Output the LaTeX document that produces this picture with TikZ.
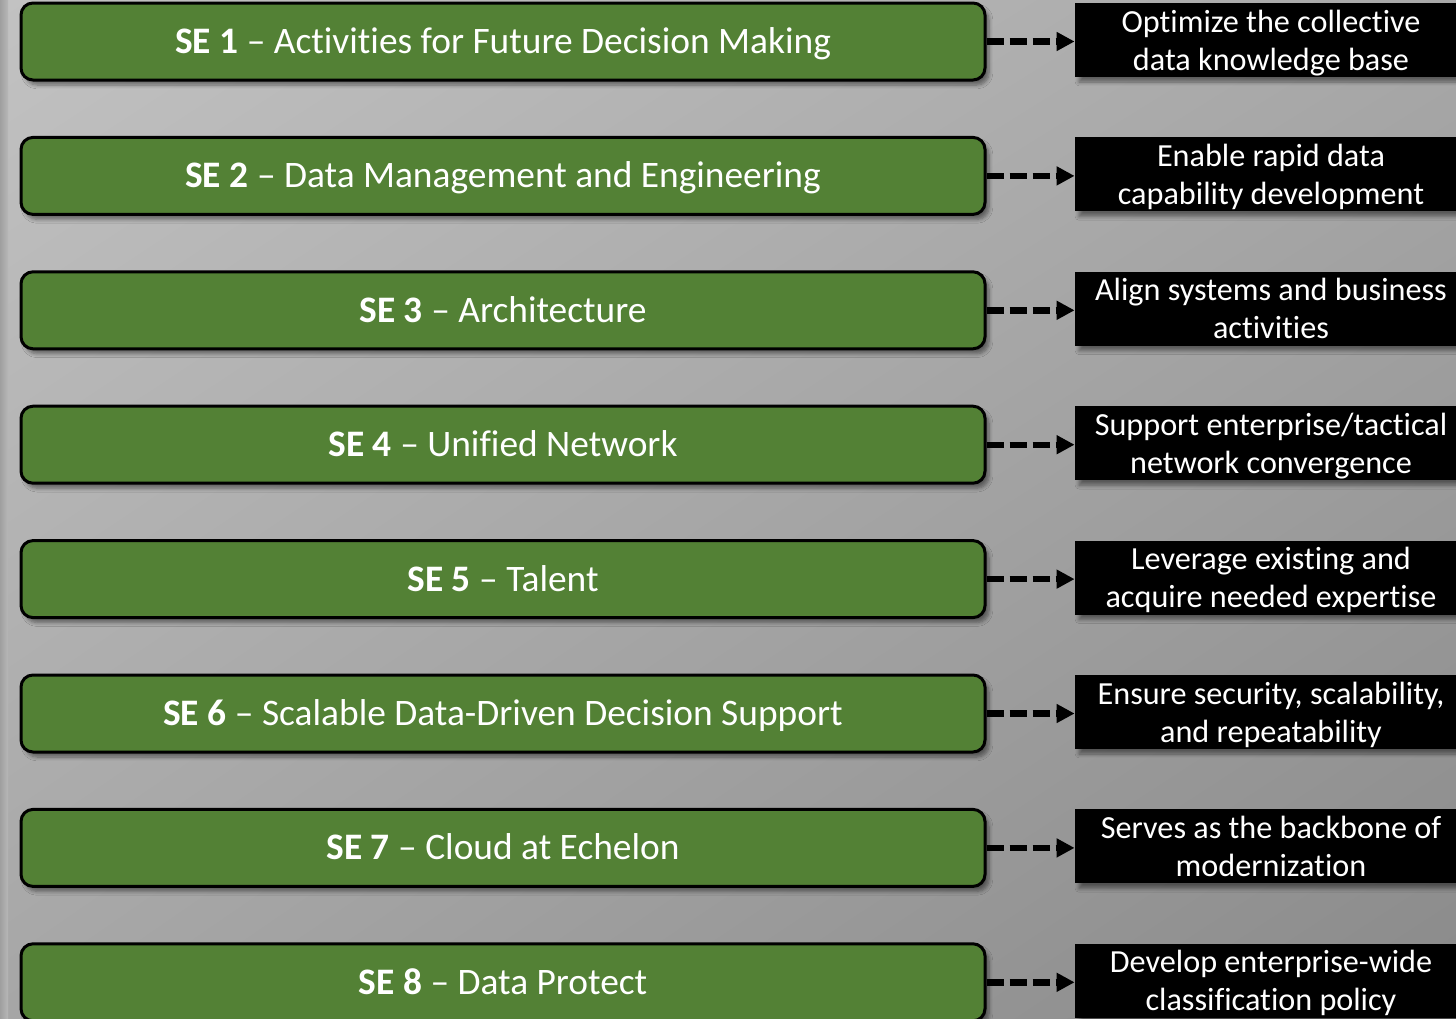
\documentclass[tikz,border=0pt]{standalone}
\usepackage{fontspec}
\setmainfont{Carlito}[Ligatures=NoCommon]
\usetikzlibrary{arrows.meta,shadings,shadows.blur}
\definecolor{segreen}{HTML}{538135}
\definecolor{bgtl}{HTML}{C2C2C2}
\definecolor{bgtr}{HTML}{A8A8A8}
\definecolor{bgbl}{HTML}{A6A6A6}
\definecolor{bgbr}{HTML}{8A8A8A}
\tikzset{
  sebox/.style={draw=black, line width=1.5pt, fill=segreen, rounded corners=6pt,
    minimum width=482pt, minimum height=38.5pt, text=white,
    font=\fontsize{18.7}{22}\selectfont, text height=12pt, text depth=0pt,
    blur shadow={shadow xshift=2pt, shadow yshift=-2.5pt, shadow blur steps=6, shadow opacity=45}},
  goalbox/.style={fill=black, minimum width=196pt, minimum height=37pt, inner sep=0pt,
    text=white, align=center, font=\fontsize{16.1}{19}\selectfont, text depth=0pt,
    blur shadow={shadow xshift=2pt, shadow yshift=-2.5pt, shadow blur steps=6, shadow opacity=45}},
  dasharrow/.style={line width=3.2pt, dash pattern=on 8.5pt off 3pt,
    -{Triangle[length=9pt,width=9pt]}}
}
\begin{document}
\begin{tikzpicture}[x=0.5pt,y=-0.5pt]
\useasboundingbox (0,0) rectangle (1456,1018);
\clip (0,0) rectangle (1456,1018);
\shade[upper left=bgtl, upper right=bgtr, lower left=bgbl, lower right=bgbr] (0,0) rectangle (1456,1018);
\shade[left color=gray!75, right color=bgtl!60!bgbl] (0,0) rectangle (8,1018);
% strategic efforts
\node[sebox] (se1) at (503,41.5) {\textbf{SE 1} -- Activities for Future Decision Making};
\node[sebox] (se2) at (503,175.9) {\textbf{SE 2} -- Data Management and Engineering};
\node[sebox] (se3) at (503,310.3) {\textbf{SE 3} -- Architecture};
\node[sebox] (se4) at (503,444.7) {\textbf{SE 4} -- Unified Network};
\node[sebox] (se5) at (503,579.1) {\textbf{SE 5} -- Talent};
\node[sebox] (se6) at (503,713.5) {\textbf{SE 6} -- Scalable Data-Driven Decision Support};
\node[sebox] (se7) at (503,847.9) {\textbf{SE 7} -- Cloud at Echelon};
\node[sebox] (se8) at (503,982.3) {\textbf{SE 8} -- Data Protect};
% goals
\node[goalbox] (goal1) at (1271,40) {Optimize the collective\\data knowledge base};
\node[goalbox] (goal2) at (1271,174.4) {Enable rapid data\\capability development};
\node[goalbox] (goal3) at (1271,308.8) {Align systems and business\\activities};
\node[goalbox] (goal4) at (1271,443.2) {Support enterprise/tactical\\network convergence};
\node[goalbox] (goal5) at (1271,577.6) {Leverage existing and\\acquire needed expertise};
\node[goalbox] (goal6) at (1271,712) {Ensure security, scalability,\\and repeatability};
\node[goalbox] (goal7) at (1271,846.4) {Serves as the backbone of\\modernization};
\node[goalbox] (goal8) at (1271,980.8) {Develop enterprise-wide\\classification policy};
\foreach \i in {1,...,8}
  \draw[dasharrow] (se\i.east) -- (se\i.east -| goal\i.west);
\end{tikzpicture}
\end{document}
